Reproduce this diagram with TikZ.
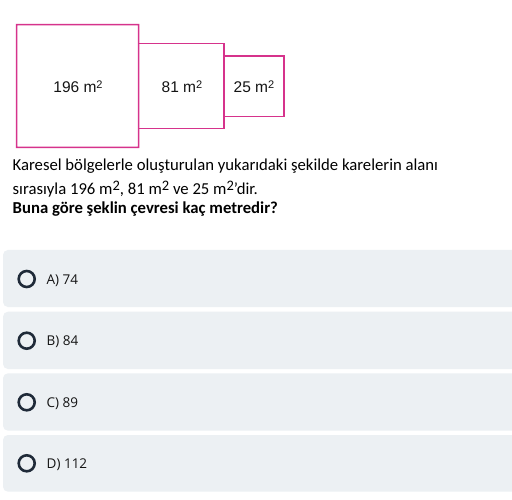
\documentclass[tikz,border=0pt]{standalone}
\usepackage{fontspec}
\setmainfont{Carlito}
\newfontfamily\arialf{Liberation Sans}
\newfontfamily\optf{Open Sans}
\definecolor{sqpink}{RGB}{214,51,140}
\definecolor{optbg}{RGB}{236,240,243}
\definecolor{ringc}{RGB}{31,42,56}
\definecolor{txt}{RGB}{20,20,20}
\tikzset{
  sqbox/.style={draw=sqpink, line width=1.5pt},
  sqframe/.style={fill=sqpink, even odd rule},
  sqlabel/.style={font=\arialf\fontsize{15.5}{18}\selectfont, text=txt, inner sep=0pt},
  qline/.style={anchor=base west, inner sep=0pt, font=\fontsize{16.7}{20}\selectfont, text=black},
  optbox/.style={fill=optbg, rounded corners=5pt},
  ring/.style={draw=ringc, line width=2.6pt},
  opttext/.style={anchor=base west, inner sep=0pt, font=\optf\fontsize{13.5}{16}\selectfont, text=txt}
}
\newcommand{\sqm}{m\raisebox{0.45ex}{\fontsize{11}{12}\selectfont 2}}
\newcommand{\qsq}{m\raisebox{0.5ex}{\fontsize{14.5}{15}\selectfont 2}}
\begin{document}
\begin{tikzpicture}[x=1pt,y=-1pt]
\useasboundingbox (0,0) rectangle (512,500);
\fill[white] (0,0) rectangle (512,500);
% squares
\fill[sqframe] (15.95,23.95) rectangle (139.45,148.1) (17.45,25.45) rectangle (137.95,146.6);
\draw[sqbox] (138.7,43.3) rectangle (224,128.7);
\draw[sqbox] (224,56) rectangle (284,116.3);
\node[sqlabel] (l1) at (78,87) {196 \sqm};
\node[sqlabel] (l2) at (182,87) {81 \sqm};
\node[sqlabel] (l3) at (254,87) {25 \sqm};
% question text
\node[qline] (q1) at (12.5,170.5) {Karesel bölgelerle oluşturulan yukarıdaki şekilde karelerin alanı};
\node[qline] (q2) at (12.5,194.3) {sırasıyla 196 \qsq, 81 \qsq{} ve 25 \qsq'dir.};
\node[qline, font=\bfseries\fontsize{16.7}{20}\selectfont] (q3) at (12.5,213.3) {Buna göre şeklin çevresi kaç metredir?};
% options
\foreach \name/\top/\bot/\cy/\lab in {A/250/307/279/{A) 74}, B/311.7/369/340.7/{B) 84}, C/373.3/430.7/402.3/{C) 89}, D/435/491.7/463.3/{D) 112}}{
  \fill[optbox] (3,\top) rectangle (520,\bot);
  \draw[ring] (26.7,\cy) circle (8pt);
  \node[opttext] (opt\name) at (46.5,\cy+5.2) {\lab};
}
\end{tikzpicture}
\end{document}
